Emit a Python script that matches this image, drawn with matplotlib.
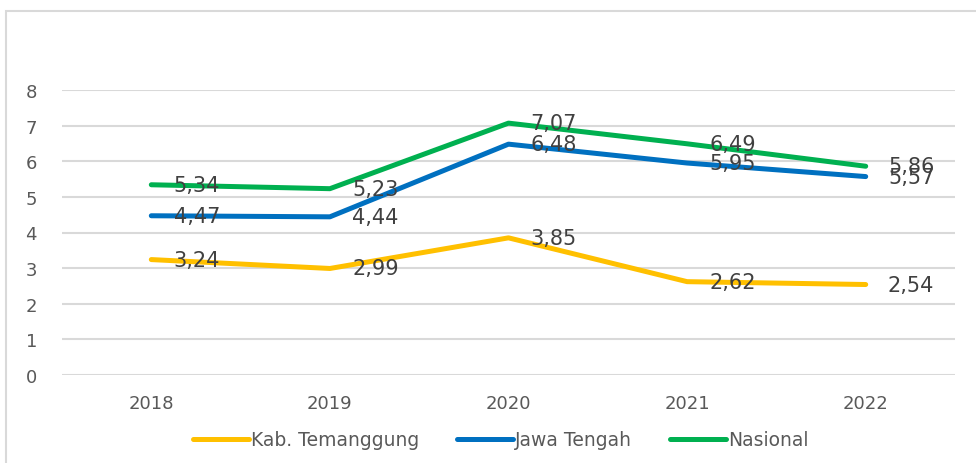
import matplotlib
matplotlib.use("Agg")
import matplotlib.pyplot as plt
from matplotlib.patches import Rectangle

years = ["2018", "2019", "2020", "2021", "2022"]
temanggung = [3.24, 2.99, 3.85, 2.62, 2.54]
jateng = [4.47, 4.44, 6.48, 5.95, 5.57]
nasional = [5.34, 5.23, 7.07, 6.49, 5.86]
series_names = ["Kab. Temanggung", "Jawa Tengah", "Nasional"]
colors = ["#FFC000", "#0070C0", "#00B050"]
yticks = [0, 1, 2, 3, 4, 5, 6, 7, 8]

plt.rcParams['font.family'] = ['DejaVu Sans']

fig = plt.figure(figsize=(9.76, 4.64), dpi=100)
fig.patches.append(Rectangle((6/976, -0.05), 1.1, 1.05 - 12/464,
                             transform=fig.transFigure, fill=False,
                             edgecolor="#D9D9D9", linewidth=1.5, zorder=0))
ax = fig.add_axes([62/976, 1-376/464, (955-62)/976, (376-91)/464])

x = list(range(len(years)))
for vals, name, c in zip([temanggung, jateng, nasional], series_names, colors):
    ax.plot(x, vals, color=c, linewidth=3.6, label=name, solid_capstyle='round', zorder=3)
    for xi, v in zip(x, vals):
        ax.annotate(f"{v:.2f}".replace(".", ","), (xi, v), xytext=(16, 0),
                    textcoords="offset points", ha="left", va="center",
                    fontsize=15, color="#404040", zorder=4)

ax.set_xlim(-0.5, 4.5)
ax.set_ylim(0, 8)
ax.set_yticks(yticks)
ax.set_xticks(x)
ax.set_xticklabels(years)
ax.grid(axis='y', color="#D9D9D9", linewidth=1.5)
ax.set_axisbelow(True)
for s in ax.spines.values():
    s.set_visible(False)
ax.tick_params(axis='both', length=0, labelsize=13, colors="#595959")
ax.tick_params(axis='y', pad=18)
ax.tick_params(axis='x', pad=14)

fig.legend(loc="center", bbox_to_anchor=(0.513, 1-441/464), ncol=3, frameon=False,
           fontsize=13.5, labelcolor="#595959", handlelength=3.0, handletextpad=0.1,
           columnspacing=2.0)

fig.savefig("out.png", dpi=100)
